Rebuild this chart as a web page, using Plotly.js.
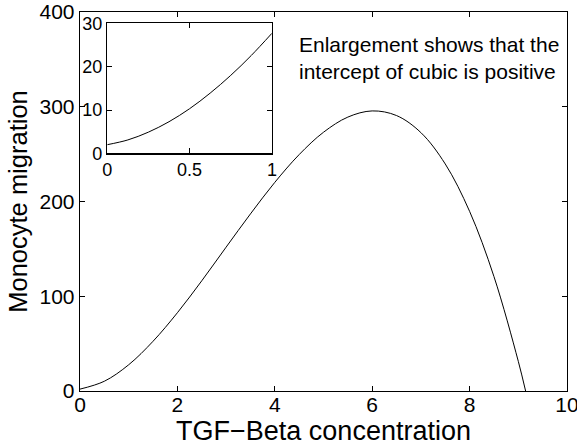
<!DOCTYPE html>
<html>
<head>
<meta charset="utf-8">
<script src="https://cdn.plot.ly/plotly-3.0.1.min.js"></script>
<style>html,body{margin:0;padding:0;background:#fff;}#chart{width:577px;height:447px;}</style>
</head>
<body>
<div id="chart"></div>
<script>
// Main curve
const tgfX = [0, 0.5, 1, 1.5, 2, 2.5, 3, 3.5, 4, 4.5, 5, 5.5, 6, 6.5, 7, 7.5, 8, 8.5, 9, 9.15];
const migrationY = [2, 10.3, 27.7, 52.5, 82.6, 116.3, 151.8, 186.9, 220.2, 249.5, 273.1, 289.1, 295.6, 290.7, 272.7, 239.6, 189.6, 120.8, 31.3, 0];
// Inset enlargement
const insetX = [0, 0.125, 0.25, 0.375, 0.5, 0.625, 0.75, 0.875, 1];
const insetY = [2, 3.1, 4.9, 7.3, 10.3, 13.9, 18.0, 22.6, 27.7];
const mainXTicks = [0, 2, 4, 6, 8, 10];
const mainYTicks = [0, 100, 200, 300, 400];
const insetXTicks = [0, 0.5, 1];
const insetXTickText = ['0', '0.5', '1'];
const insetYTicks = [0, 10, 20, 30];
const noteText = 'Enlargement shows that the<br>intercept of cubic is positive';

const FONT = 'Liberation Sans, Arial, Helvetica, sans-serif';

const traces = [
  {x: tgfX, y: migrationY, type: 'scatter', mode: 'lines', line: {color: '#000', width: 1, shape: 'spline', smoothing: 1}, xaxis: 'x', yaxis: 'y', hoverinfo: 'none'},
  {x: insetX, y: insetY, type: 'scatter', mode: 'lines', line: {color: '#000', width: 1, shape: 'spline', smoothing: 1}, xaxis: 'x2', yaxis: 'y2', hoverinfo: 'none'}
];

const axisCommon = {
  showgrid: false, zeroline: false, showline: true, linecolor: '#000', linewidth: 1.3,
  mirror: 'ticks', ticks: 'inside', ticklen: 5, tickwidth: 1, tickcolor: '#000',
  tickfont: {family: FONT, size: 21, color: '#000'}
};

const layout = {
  width: 577, height: 447,
  margin: {l: 80, r: 9.5, t: 12, b: 56, pad: 0},
  paper_bgcolor: '#fff', plot_bgcolor: '#fff',
  showlegend: false,
  font: {family: FONT, color: '#000'},
  xaxis: Object.assign({}, axisCommon, {
    domain: [0, 1], range: [0, 10], tickmode: 'array', tickvals: mainXTicks,
    ticklabeloverflow: 'allow', ticklabelstandoff: -6,
    title: {text: 'TGF\u2212Beta concentration', font: {family: FONT, size: 27, color: '#000'}, standoff: 0}
  }),
  yaxis: Object.assign({}, axisCommon, {
    domain: [0, 1], range: [0, 400], tickmode: 'array', tickvals: mainYTicks,
    ticklabeloverflow: 'allow',
    title: {text: 'Monocyte migration', font: {family: FONT, size: 25.5, color: '#000'}, standoff: 4}
  }),
  xaxis2: Object.assign({}, axisCommon, {
    domain: [0.056, 0.394], range: [0, 1], anchor: 'y2', tickmode: 'array',
    tickvals: insetXTicks, ticktext: insetXTickText, tickfont: {family: FONT, size: 18, color: '#000'}
  }),
  yaxis2: Object.assign({}, axisCommon, {
    domain: [0.627, 0.970], range: [0, 30], anchor: 'x2', tickmode: 'array',
    tickvals: insetYTicks, tickfont: {family: FONT, size: 18, color: '#000'}
  }),
  shapes: [
    {type: 'rect', xref: 'paper', yref: 'paper', x0: 0.056, x1: 0.394, y0: 0.627, y1: 0.970, fillcolor: '#fff', line: {width: 0}, layer: 'below'}
  ],
  annotations: [
    {text: noteText, xref: 'paper', yref: 'paper', x: 0.446, y: 0.95, xanchor: 'left', yanchor: 'top', align: 'left', showarrow: false,
     font: {family: FONT, size: 21, color: '#000'}}
  ]
};

Plotly.newPlot('chart', traces, layout, {staticPlot: true, displayModeBar: false});
</script>
</body>
</html>
